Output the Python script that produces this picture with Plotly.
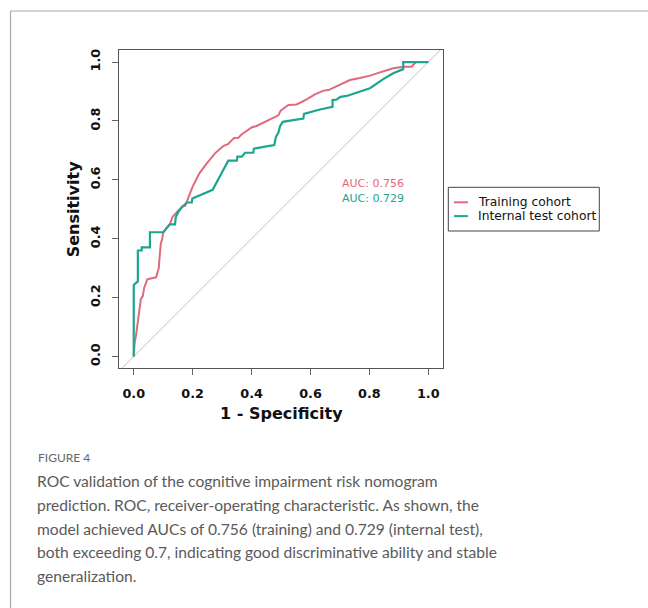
import plotly.graph_objects as go

# ---- data ----
train_fpr = [0.0, 0.003, 0.008, 0.012, 0.017, 0.021, 0.024, 0.031, 0.035, 0.042, 0.046, 0.076, 0.080, 0.085,
             0.087, 0.089, 0.092, 0.096, 0.100, 0.110, 0.123, 0.132, 0.140, 0.153, 0.164, 0.175, 0.182, 0.191,
             0.200, 0.212, 0.223, 0.248, 0.276, 0.304, 0.321, 0.333, 0.341, 0.355, 0.367, 0.383, 0.400, 0.417,
             0.446, 0.491, 0.499, 0.525, 0.553, 0.587, 0.615, 0.644, 0.661, 0.700, 0.734, 0.768, 0.802, 0.836,
             0.881, 0.915, 0.943, 0.958, 1.0]
train_tpr = [0.0, 0.045, 0.074, 0.100, 0.136, 0.170, 0.195, 0.206, 0.232, 0.249, 0.262, 0.269, 0.283, 0.300,
             0.328, 0.351, 0.385, 0.396, 0.420, 0.435, 0.450, 0.475, 0.484, 0.495, 0.509, 0.512, 0.534, 0.554,
             0.577, 0.600, 0.622, 0.656, 0.690, 0.715, 0.722, 0.735, 0.742, 0.743, 0.755, 0.766, 0.778, 0.783,
             0.798, 0.819, 0.835, 0.854, 0.856, 0.873, 0.890, 0.903, 0.905, 0.922, 0.939, 0.946, 0.954, 0.965,
             0.979, 0.984, 0.984, 1.0, 1.0]

test_fpr = [0.0, 0.0, 0.014, 0.014, 0.027, 0.027, 0.055, 0.055, 0.100, 0.112, 0.123, 0.140, 0.143, 0.152,
            0.163, 0.180, 0.197, 0.199, 0.225, 0.248, 0.268, 0.293, 0.321, 0.350, 0.352, 0.367, 0.378, 0.406,
            0.408, 0.446, 0.477, 0.483, 0.491, 0.497, 0.506, 0.542, 0.576, 0.578, 0.632, 0.675, 0.675, 0.689,
            0.702, 0.723, 0.802, 0.847, 0.881, 0.915, 0.915, 1.0]
test_tpr = [0.0, 0.243, 0.255, 0.360, 0.360, 0.371, 0.371, 0.422, 0.422, 0.436, 0.449, 0.449, 0.475, 0.492,
            0.506, 0.523, 0.523, 0.537, 0.549, 0.557, 0.566, 0.613, 0.665, 0.665, 0.679, 0.679, 0.692, 0.692,
            0.706, 0.713, 0.718, 0.747, 0.760, 0.783, 0.797, 0.803, 0.808, 0.824, 0.839, 0.848, 0.871, 0.873,
            0.882, 0.885, 0.911, 0.942, 0.962, 0.976, 1.0, 1.0]

series_names = ["Training cohort", "Internal test cohort"]
auc_labels = ["AUC: 0.756", "AUC: 0.729"]
tick_vals = [0.0, 0.2, 0.4, 0.6, 0.8, 1.0]
tick_text = ["0.0", "0.2", "0.4", "0.6", "0.8", "1.0"]

caption_head = "FIGURE 4"
caption_lines = [
    "ROC validation of the cognitive impairment risk nomogram",
    "prediction. ROC, receiver-operating characteristic. As shown, the",
    "model achieved AUCs of 0.756 (training) and 0.729 (internal test),",
    "both exceeding 0.7, indicating good discriminative ability and stable",
    "generalization.",
]

# ---- style ----
W, H = 648, 608
PINK = "#E0697F"
TEAL = "#1AA68F"
AX = "DejaVu Sans"
CAP = "Lato"


def px(x):
    return x / W


def py(y):
    return 1 - y / H


plot_l, plot_r, plot_t, plot_b = 119.3, 443.3, 50.0, 368.3

fig = go.Figure()

# chance diagonal
fig.add_trace(go.Scatter(x=[-0.2, 1.2], y=[-0.2, 1.2], mode="lines",
                         line=dict(color="#BDBDBD", width=1), hoverinfo="skip", showlegend=False))
fig.add_trace(go.Scatter(x=train_fpr, y=train_tpr, mode="lines", name=series_names[0],
                         line=dict(color=PINK, width=2), showlegend=False))
fig.add_trace(go.Scatter(x=test_fpr, y=test_tpr, mode="lines", name=series_names[1],
                         line=dict(color=TEAL, width=2.2), showlegend=False))

axis_common = dict(
    showgrid=False, zeroline=False, showline=True, mirror=True,
    linecolor="#555555", linewidth=1.2,
    ticks="outside", ticklen=6, tickwidth=1, tickcolor="#666666",
    tickvals=tick_vals, ticktext=tick_text,
    tickfont=dict(family=AX, size=12.8, color="#111111", weight="bold"),
)

fig.update_layout(
    width=W, height=H,
    margin=dict(l=0, r=0, t=0, b=0),
    paper_bgcolor="white", plot_bgcolor="white",
    xaxis=dict(domain=[px(plot_l), px(plot_r)], range=[-0.049, 1.051],
               ticklabelstandoff=7, **axis_common),
    yaxis=dict(domain=[py(plot_b), py(plot_t)], range=[-0.04, 1.041],
               tickangle=-90, ticklabelstandoff=7, **axis_common),
    showlegend=False,
)

ann = []
# axis titles
ann.append(dict(text="Sensitivity", x=px(73.3), y=py(209), xref="paper", yref="paper",
                textangle=-90, showarrow=False, xanchor="center", yanchor="middle",
                font=dict(family=AX, size=16, color="#111111", weight="bold")))
ann.append(dict(text="1 - Specificity", x=px(281.3), y=py(413), xref="paper", yref="paper",
                showarrow=False, xanchor="center", yanchor="middle",
                font=dict(family=AX, size=16, color="#111111", weight="bold")))
# AUC labels
ann.append(dict(text=auc_labels[0], x=0.70, y=0.586, xref="x", yref="y", showarrow=False,
                xanchor="left", yanchor="middle", font=dict(family=AX, size=11, color=PINK)))
ann.append(dict(text=auc_labels[1], x=0.70, y=0.537, xref="x", yref="y", showarrow=False,
                xanchor="left", yanchor="middle", font=dict(family=AX, size=11, color=TEAL)))

# manual legend
shapes = []
leg_l, leg_r, leg_t, leg_b = 448.3, 599.3, 187.3, 231.0
shapes.append(dict(type="rect", xref="paper", yref="paper", x0=px(leg_l), x1=px(leg_r),
                   y0=py(leg_b), y1=py(leg_t), line=dict(color="#444444", width=1), fillcolor="white"))
for i, (nm, col) in enumerate(zip(series_names, [PINK, TEAL])):
    yy = 202.3 + i * 13.8
    shapes.append(dict(type="line", xref="paper", yref="paper", x0=px(454), x1=px(468),
                       y0=py(yy), y1=py(yy), line=dict(color=col, width=2)))
    ann.append(dict(text=nm, x=px(475.5), y=py(yy), xref="paper", yref="paper", showarrow=False,
                    xanchor="left", yanchor="middle", font=dict(family=AX, size=12.3, color="#111111")))

# outer figure frame
shapes.append(dict(type="line", xref="paper", yref="paper", x0=px(10.5), x1=1.0, y0=py(11), y1=py(11),
                   line=dict(color="#A8A8A8", width=1.2)))
shapes.append(dict(type="line", xref="paper", yref="paper", x0=px(10.5), x1=px(10.5), y0=py(11), y1=0,
                   line=dict(color="#A8A8A8", width=1.2)))

# caption
ann.append(dict(text=caption_head, x=px(36), y=py(457), xref="paper", yref="paper", showarrow=False,
                xanchor="left", yanchor="middle", font=dict(family=CAP, size=12, color="#666666")))
for i, line in enumerate(caption_lines):
    ann.append(dict(text=line, x=px(35), y=py(481 + i * 23.8), xref="paper", yref="paper",
                    showarrow=False, xanchor="left", yanchor="middle",
                    font=dict(family=CAP, size=15.6, color="#5A5A5A")))

fig.update_layout(annotations=ann, shapes=shapes)
fig.write_html("out.html")
